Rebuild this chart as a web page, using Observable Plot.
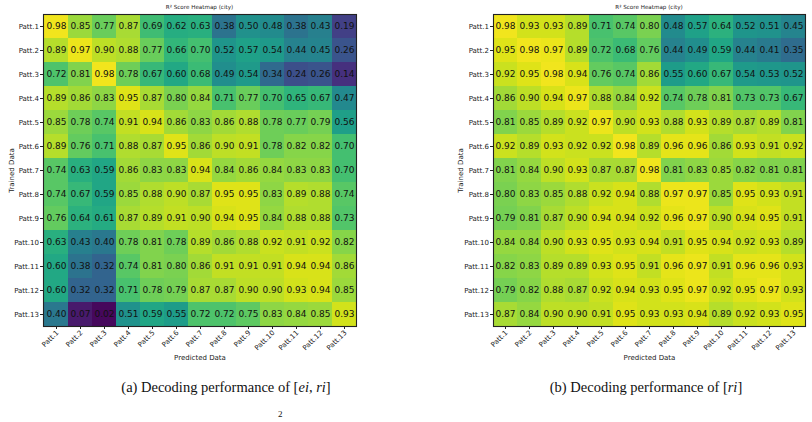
<!DOCTYPE html>
<html>
<head>
<meta charset="utf-8">
<script src="https://cdn.jsdelivr.net/npm/d3@7"></script>
<script src="https://cdn.jsdelivr.net/npm/@observablehq/plot@0.6"></script>
<style>
  html, body { margin: 0; padding: 0; background: #fff; }
  #wrap { position: relative; width: 812px; height: 422px; overflow: hidden; font-family: "DejaVu Sans", sans-serif; }
  .panel { position: absolute; top: 0; }
  .title { position: absolute; font-size: 5.6px; color: #222; transform: translateX(-50%); white-space: nowrap; font-family: "DejaVu Sans", sans-serif; }
  .caption { position: absolute; font-family: "Liberation Serif", "Times New Roman", serif; font-size: 14.5px; color: #111; transform: translateX(-50%); white-space: nowrap; }
  .caption i { font-family: "Liberation Serif", serif; }
  .foot { position: absolute; font-family: "Liberation Serif", serif; font-size: 9px; color: #111; line-height: 9px; }
</style>
</head>
<body>
<div id="wrap"></div>
<script>
const labels = ["Patt.1","Patt.2","Patt.3","Patt.4","Patt.5","Patt.6","Patt.7","Patt.8","Patt.9","Patt.10","Patt.11","Patt.12","Patt.13"];
const titleText = "R\u00b2 Score Heatmap (city)";
const xLabel = "Predicted Data";
const yLabel = "Trained Data";

// (a) [ei, ri] — rows: trained, cols: predicted
const valuesA = [
  [0.98,0.85,0.77,0.87,0.69,0.62,0.63,0.38,0.50,0.48,0.38,0.43,0.19],
  [0.89,0.97,0.90,0.88,0.77,0.66,0.70,0.52,0.57,0.54,0.44,0.45,0.26],
  [0.72,0.81,0.98,0.78,0.67,0.60,0.68,0.49,0.54,0.34,0.24,0.26,0.14],
  [0.89,0.86,0.83,0.95,0.87,0.80,0.84,0.71,0.77,0.70,0.65,0.67,0.47],
  [0.85,0.78,0.74,0.91,0.94,0.86,0.83,0.86,0.88,0.78,0.77,0.79,0.56],
  [0.89,0.76,0.71,0.88,0.87,0.95,0.86,0.90,0.91,0.78,0.82,0.82,0.70],
  [0.74,0.63,0.59,0.86,0.83,0.83,0.94,0.84,0.86,0.84,0.83,0.83,0.70],
  [0.74,0.67,0.59,0.85,0.88,0.90,0.87,0.95,0.95,0.83,0.89,0.88,0.74],
  [0.76,0.64,0.61,0.87,0.89,0.91,0.90,0.94,0.95,0.84,0.88,0.88,0.73],
  [0.63,0.43,0.40,0.78,0.81,0.78,0.89,0.86,0.88,0.92,0.91,0.92,0.82],
  [0.60,0.38,0.32,0.74,0.81,0.80,0.86,0.91,0.91,0.91,0.94,0.94,0.86],
  [0.60,0.32,0.32,0.71,0.78,0.79,0.87,0.87,0.90,0.90,0.93,0.94,0.85],
  [0.40,0.07,0.02,0.51,0.59,0.55,0.72,0.72,0.75,0.83,0.84,0.85,0.93]
];

// (b) [ri]
const valuesB = [
  [0.98,0.93,0.93,0.89,0.71,0.74,0.80,0.48,0.57,0.64,0.52,0.51,0.45],
  [0.95,0.98,0.97,0.89,0.72,0.68,0.76,0.44,0.49,0.59,0.44,0.41,0.35],
  [0.92,0.95,0.98,0.94,0.76,0.74,0.86,0.55,0.60,0.67,0.54,0.53,0.52],
  [0.86,0.90,0.94,0.97,0.88,0.84,0.92,0.74,0.78,0.81,0.73,0.73,0.67],
  [0.81,0.85,0.89,0.92,0.97,0.90,0.93,0.88,0.93,0.89,0.87,0.89,0.81],
  [0.92,0.89,0.93,0.92,0.92,0.98,0.89,0.96,0.96,0.86,0.93,0.91,0.92],
  [0.81,0.84,0.90,0.93,0.87,0.87,0.98,0.81,0.83,0.85,0.82,0.81,0.81],
  [0.80,0.83,0.85,0.88,0.92,0.94,0.88,0.97,0.97,0.85,0.95,0.93,0.91],
  [0.79,0.81,0.87,0.90,0.94,0.94,0.92,0.96,0.97,0.90,0.94,0.95,0.91],
  [0.84,0.84,0.90,0.93,0.95,0.93,0.94,0.91,0.95,0.94,0.92,0.93,0.89],
  [0.82,0.83,0.89,0.89,0.93,0.95,0.91,0.96,0.97,0.91,0.96,0.96,0.93],
  [0.79,0.82,0.88,0.87,0.92,0.94,0.93,0.95,0.97,0.92,0.95,0.97,0.93],
  [0.87,0.84,0.90,0.90,0.91,0.95,0.93,0.93,0.94,0.89,0.92,0.93,0.95]
];

const captionA = '(a) Decoding performance of [<i>ei</i>, <i>ri</i>]';
const captionB = '(b) Decoding performance of [<i>ri</i>]';

function toTable(values) {
  const out = [];
  values.forEach((row, i) => row.forEach((v, j) => out.push({trained: labels[i], predicted: labels[j], value: v})));
  return out;
}

function heatmap(values, ml, mr, yLabelOffset) {
  const data = toTable(values);
  return Plot.plot({
    width: 406,
    height: 372,
    marginLeft: ml,
    marginRight: mr,
    marginTop: 14,
    marginBottom: 46,
    style: {fontFamily: "DejaVu Sans, sans-serif", fontSize: "7px", color: "#222", background: "transparent"},
    x: {type: "band", domain: labels, padding: 0},
    y: {type: "band", domain: labels, padding: 0},
    color: {type: "linear", scheme: "viridis", domain: [0, 1]},
    marks: [
      Plot.cell(data, {x: "predicted", y: "trained", fill: "value", inset: 0}),
      Plot.text(data, {x: "predicted", y: "trained", text: d => d.value.toFixed(2), fill: "#111", fontSize: 9, fontFamily: "DejaVu Sans, sans-serif"}),
      Plot.frame({stroke: "#222", strokeWidth: 1.1}),
      Plot.axisX({tickSize: 3, tickFormat: null, label: xLabel, labelAnchor: "center", labelArrow: "none", labelOffset: 33, fontSize: 7}),
      Plot.text(labels, {x: d => d, frameAnchor: "bottom", rotate: -45, textAnchor: "end", lineAnchor: "middle", dx: 1, dy: 5, fontSize: 7, fill: "#222", fontFamily: "DejaVu Sans, sans-serif"}),
      Plot.axisY({tickSize: 3, tickPadding: 1.5, label: yLabel, labelAnchor: "center", labelArrow: "none", labelOffset: yLabelOffset, fontSize: 7})
    ]
  });
}

const wrap = document.getElementById("wrap");

const pA = heatmap(valuesA, 43, 50, 34);
pA.classList.add("panel"); pA.style.left = "0px";
wrap.appendChild(pA);

const pB = heatmap(valuesB, 87, 7, 35);
pB.classList.add("panel"); pB.style.left = "406px";
wrap.appendChild(pB);

function addDiv(cls, html, left, top) {
  const d = document.createElement("div");
  d.className = cls; d.innerHTML = html;
  d.style.left = left + "px"; d.style.top = top + "px";
  wrap.appendChild(d);
}
addDiv("title", titleText, 199.5, 4);
addDiv("title", titleText, 649, 4);
addDiv("caption", captionA, 226, 379);
addDiv("caption", captionB, 646, 379);
addDiv("foot", "2", 278, 410);
</script>
</body>
</html>
